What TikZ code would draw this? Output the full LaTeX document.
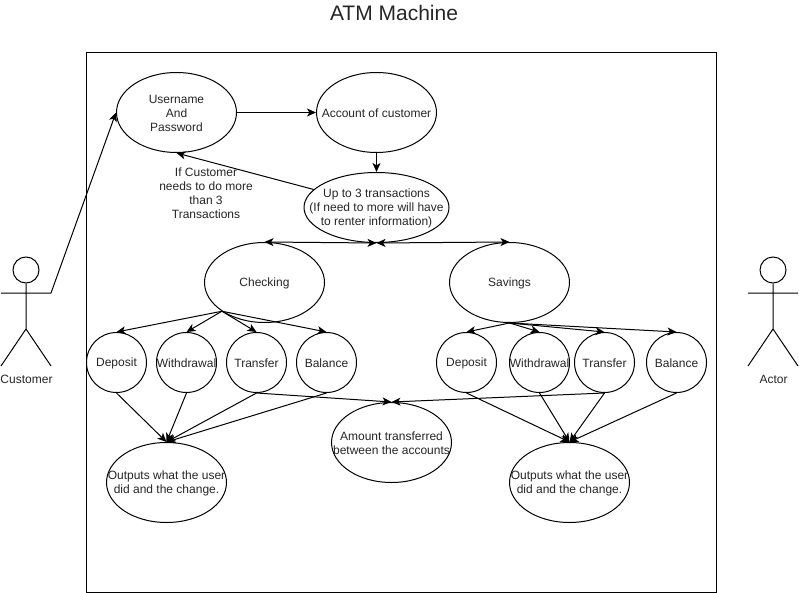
\documentclass[tikz,border=0pt]{standalone}
\usepackage{fontspec}
\setmainfont{Liberation Sans}
\usetikzlibrary{shapes.geometric,arrows.meta}
\tikzset{
  every node/.style={font=\fontsize{12}{14}\selectfont},
  ln/.style={line width=1pt,draw=black},
  arr/.style={ln,-{Stealth[length=9pt,width=8pt,inset=2.4pt]}},
  darr/.style={ln,{Stealth[length=9pt,width=8pt,inset=2.4pt]}-{Stealth[length=9pt,width=8pt,inset=2.4pt]}},
  ell/.style={ellipse,ln,inner sep=0pt,minimum width=120pt,minimum height=80pt},
  circ/.style={ellipse,ln,inner sep=0pt,minimum width=60pt,minimum height=60pt},
  txt/.style={align=center,inner sep=0pt,text=black!85},
  say/.style={label={[txt,yshift=-1pt]center:#1}}
}
\begin{document}
\begin{tikzpicture}[x=1pt,y=-1pt]
\useasboundingbox (0,0) rectangle (799,593);
\fill[white] (0,0) rectangle (799,593);
\draw[ln] (86.5,52.5) rectangle (716.5,592.5);
\node[txt,font=\fontsize{21}{24}\selectfont] (title) at (394,13) {ATM Machine};

% actors
\node[circle,ln,inner sep=0pt,minimum size=26pt] (custhead) at (26,270) {};
\coordinate (custarmL) at (1,293);
\coordinate (custarmR) at (51,293);
\coordinate (custhip) at (26,329);
\coordinate (custfootL) at (1,366);
\coordinate (custfootR) at (51,366);
\draw[ln] (custhead.south) -- (custhip) (custarmL) -- (custarmR) (custfootL) -- (custhip) -- (custfootR);
\node[txt] (custlabel) at (26.5,379.5) {Customer};

\node[circle,ln,inner sep=0pt,minimum size=26pt] (acthead) at (773,270) {};
\coordinate (actarmL) at (748,293);
\coordinate (actarmR) at (798,293);
\coordinate (acthip) at (773,329);
\coordinate (actfootL) at (748,366);
\coordinate (actfootR) at (798,366);
\draw[ln] (acthead.south) -- (acthip) (actarmL) -- (actarmR) (actfootL) -- (acthip) -- (actfootR);
\node[txt] (actlabel) at (773.5,379.5) {Actor};

% top
\node[ell,say={Username\\And\\Password}] (user) at (176.5,112.5) {};
\node[ell,say={Account of customer}] (acct) at (376.5,112.5) {};
\node[ell,minimum width=145pt,minimum height=70pt,say={Up to 3 transactions\\(If need to more will have\\to renter information)}] (upto) at (376.5,207.5) {};
\node[txt] (note) at (206,193.5) {If Customer\\needs to do more\\than 3\\Transactions};

\node[ell,say={Checking}] (check) at (264.5,282.5) {};
\node[ell,say={Savings}] (sav) at (509.5,282.5) {};

% leaves
\node[circ,say={Deposit}] (dep1) at (116.5,362.5) {};
\node[circ,say={Withdrawal}] (wit1) at (186.5,362.5) {};
\node[circ,say={Transfer}] (tra1) at (256.5,362.5) {};
\node[circ,say={Balance}] (bal1) at (326.5,362.5) {};
\node[circ,say={Deposit}] (dep2) at (466.5,362.5) {};
\node[circ,say={Withdrawal}] (wit2) at (539.5,362.5) {};
\node[circ,say={Transfer}] (tra2) at (604.5,362.5) {};
\node[circ,say={Balance}] (bal2) at (676.5,362.5) {};

\node[ell,say={Amount transferred\\between the accounts}] (amount) at (391.5,442.5) {};
\node[ell,say={Outputs what the user\\did and the change.}] (out1) at (166.5,482.5) {};
\node[ell,say={Outputs what the user\\did and the change.}] (out2) at (569.5,482.5) {};

% connectors
\draw[arr] (custarmR) -- (user.west);
\draw[arr] (user.east) -- (acct.west);
\draw[arr] (acct.south) -- (upto.north);
\draw[arr] (upto.164) -- (user.south);
\draw[darr] (upto.south) -- (check.north);
\draw[darr] (upto.south) -- (sav.north);
\foreach \c in {dep1,wit1,tra1,bal1} {
  \draw[arr] (check.214) -- (\c.north);
  \draw[arr] (\c.south) -- (out1.north);
}
\foreach \c in {dep2,wit2,tra2,bal2} {
  \draw[arr] (sav.south) -- (\c.north);
  \draw[arr] (\c.south) -- (out2.north);
}
\draw[arr] (tra1.south) -- (amount.north);
\draw[arr] (tra2.south) -- (amount.north);
\end{tikzpicture}
\end{document}
